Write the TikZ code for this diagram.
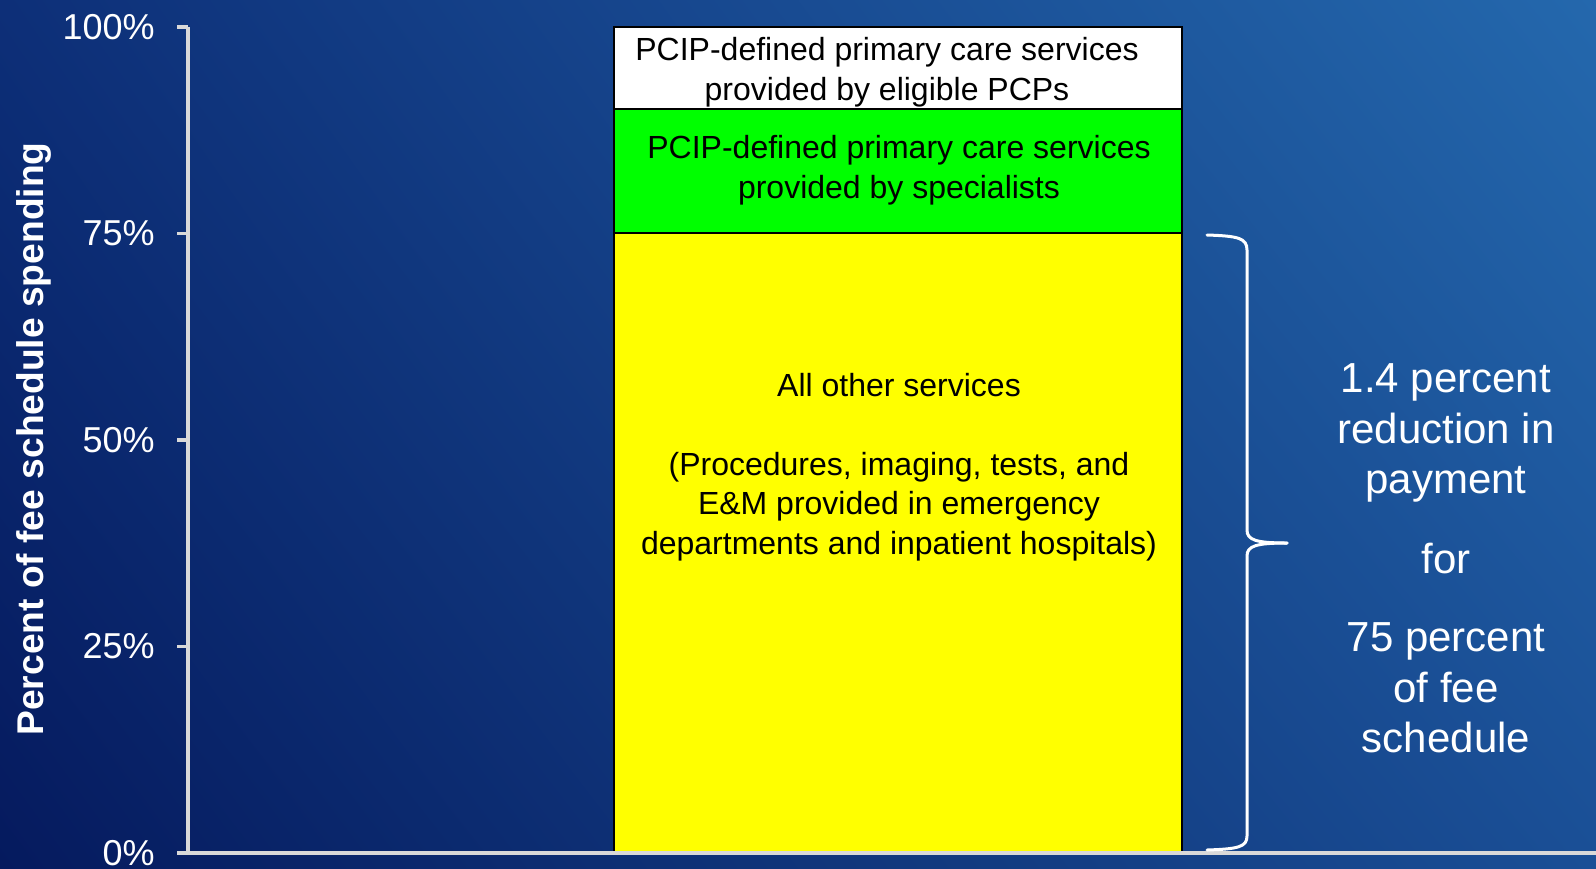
\documentclass[tikz,border=0pt]{standalone}
\usepackage{fontspec}
\setmainfont{Liberation Sans}
\usetikzlibrary{shadings}
\begin{document}
\begin{tikzpicture}[x=0.5pt,y=-0.5pt,
  seg/.style={draw=black,line width=1pt},
  axisline/.style={draw=axisgrey,line width=1.6pt},
  bartext/.style={align=center,inner sep=0pt,font=\fontsize{16}{19.8}\selectfont},
  sidetext/.style={align=center,inner sep=0pt,text=white,font=\fontsize{21}{25.2}\selectfont},
  ylab/.style={anchor=east,inner sep=0pt,text=white,font=\fontsize{18}{21}\selectfont},
  bracestyle/.style={draw=white,line width=1.5pt}]
\definecolor{axisgrey}{HTML}{D9D9D9}
\definecolor{bgUL}{HTML}{0D2F78}
\definecolor{bgUR}{HTML}{2468AD}
\definecolor{bgLL}{HTML}{051A5E}
\definecolor{bgLR}{HTML}{1A4F96}
\definecolor{bargreen}{HTML}{00FF00}
\definecolor{baryellow}{HTML}{FFFF00}
\useasboundingbox (0,0) rectangle (1596,868);
\shade[upper left=bgUL,upper right=bgUR,lower left=bgLL,lower right=bgLR] (0,0) rectangle (1596,868);
% bar segments
\path[seg,fill=white] (614,27) rectangle (1182,109);
\path[seg,fill=bargreen] (614,109) rectangle (1182,233);
\path[seg,fill=baryellow] (614,233) rectangle (1182,853);
% axes
\coordinate (ytop) at (188,27);
\coordinate (origin) at (188,853);
\coordinate (xend) at (1596,853);
\draw[axisline] (ytop) -- (origin) -- (xend);
\foreach \y in {27,233.5,440,646.5,853} {\draw[axisline] (177,\y) -- (188,\y);}
\node[ylab] (l100) at (155,27) {100\%};
\node[ylab] (l75) at (155,233.5) {75\%};
\node[ylab] (l50) at (155,440) {50\%};
\node[ylab] (l25) at (155,646.5) {25\%};
\node[ylab] (l0) at (155,853) {0\%};
\node[rotate=90,inner sep=0pt,text=white,font=\fontsize{18.6}{21}\selectfont\bfseries] (ytitle) at (34,439) {Percent of fee schedule spending};
% bar texts
\node[bartext] (ttop) at (887,72.5) {PCIP-defined primary care services\\provided by eligible PCPs};
\node[bartext] (tmid) at (899,170) {PCIP-defined primary care services\\provided by specialists};
\node[bartext] (tlow) at (899,467) {All other services\\\mbox{}\\(Procedures, imaging, tests, and\\E\&M provided in emergency\\departments and inpatient hospitals)};
% brace
\draw[bracestyle,line cap=round] (1207,235) .. controls (1238,236) and (1247,238) .. (1247,250) -- (1247,530) .. controls (1247,540) and (1256,543) .. (1287,543);
\draw[bracestyle,line cap=round] (1287,543) .. controls (1256,543) and (1247,546) .. (1247,556) -- (1247,836) .. controls (1247,847) and (1238,849) .. (1207,850);
% side texts
\node[sidetext] (s1) at (1446,433) {1.4 percent\\reduction in\\payment};
\node[sidetext] (s2) at (1446,559) {for};
\node[sidetext] (s3) at (1446,688) {75 percent\\of fee\\schedule};
\end{tikzpicture}
\end{document}
